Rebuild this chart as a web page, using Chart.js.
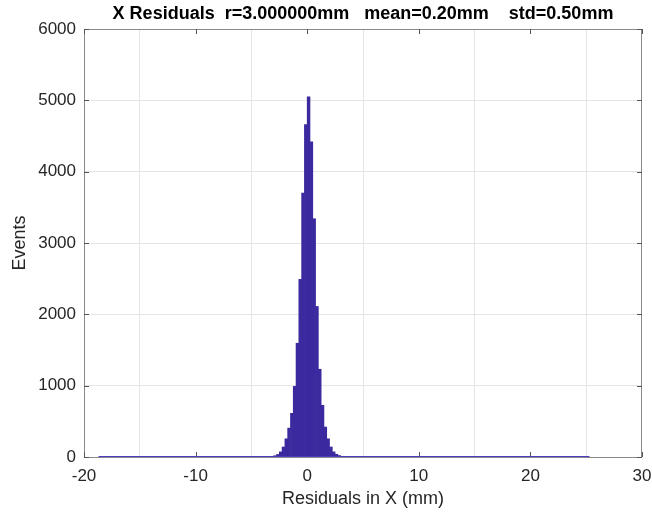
<!DOCTYPE html>
<html>
<head>
<meta charset="utf-8">
<script src="https://cdn.jsdelivr.net/npm/chart.js@4"></script>
<style>
html,body{margin:0;padding:0;background:#fff;}
#wrap{width:652px;height:513px;}
</style>
</head>
<body>
<div id="wrap"><canvas id="c" width="652" height="513"></canvas></div>
<script>
// ---- data ----
const titleText = "X Residuals  r=3.000000mm   mean=0.20mm    std=0.50mm";
const xLabel = "Residuals in X (mm)";
const yLabel = "Events";
const binCenters = [-3.375,-3.125,-2.875,-2.625,-2.375,-2.125,-1.875,-1.625,-1.375,-1.125,-0.875,-0.625,-0.375,-0.125,
                    0.125,0.375,0.625,0.875,1.125,1.375,1.625,1.875,2.125,2.375,2.625,2.875,3.125,3.375];
const counts = [5,10,18,35,72,140,255,405,612,990,1595,2490,3700,4660,
                5050,4420,3340,2110,1230,725,420,255,140,72,38,20,10,5];
const tailRange = [-18.7, 25.3];   // extent of the near-zero tails of the histogram
const tailCounts = [0, 0];
const xTicks = [-20,-10,0,10,20,30];
const yTicks = [0,1000,2000,3000,4000,5000,6000];

const barColor = '#3b2a9f';
const axisColor = '#8a8a8a';
const textColor = '#262626';
const FONT = "'Liberation Sans', Arial, Helvetica, sans-serif";

const histData = binCenters.map((x,i)=>({x:x, y:counts[i]}));
const tailData = tailRange.map((x,i)=>({x:x, y:tailCounts[i]}));

const boxPlugin = {
  id:'box',
  beforeDatasetsDraw(chart){
    const {ctx, chartArea:a, scales} = chart;
    ctx.save();
    ctx.strokeStyle = axisColor;
    ctx.lineWidth = 1;
    ctx.strokeRect(Math.round(a.left)+0.5, Math.round(a.top)+0.5, Math.round(a.right-a.left)-1, Math.round(a.bottom-a.top));
    ctx.strokeStyle = '#555';
    ctx.beginPath();
    xTicks.forEach(v=>{
      const p = Math.round(scales.x.getPixelForValue(v))+0.5;
      ctx.moveTo(p, a.bottom); ctx.lineTo(p, a.bottom-5);
      ctx.moveTo(p, a.top); ctx.lineTo(p, a.top+5);
    });
    yTicks.forEach(v=>{
      const p = Math.round(scales.y.getPixelForValue(v))+0.5;
      ctx.moveTo(a.left, p); ctx.lineTo(a.left+5, p);
      ctx.moveTo(a.right, p); ctx.lineTo(a.right-5, p);
    });
    ctx.stroke();
    ctx.restore();
  }
};

new Chart(document.getElementById('c'), {
  type:'bar',
  data:{
    datasets:[
      {type:'line', data:tailData, borderColor:'#4b3fc0', borderWidth:2, pointRadius:0, order:0},
      {type:'bar', data:histData, backgroundColor:barColor, borderColor:barColor, borderWidth:0,
       barPercentage:1, categoryPercentage:1, order:1}
    ]
  },
  plugins:[boxPlugin],
  options:{
    responsive:false,
    animation:false,
    devicePixelRatio:1,
    layout:{padding:{left:0,right:10,top:0,bottom:0}},
    plugins:{
      legend:{display:false},
      tooltip:{enabled:false},
      title:{display:true, text:titleText, fullSize:false, color:'#000',
             font:{family:FONT, size:18, weight:'bold'}, padding:{top:3,bottom:4.4}}
    },
    scales:{
      x:{type:'linear', min:-20, max:30, offset:false,
         afterBuildTicks(s){ s.ticks = xTicks.map(v=>({value:v})); },
         afterFit(s){ s.height = 56; s.paddingLeft = 0; s.paddingRight = 0; },
         grid:{color:'#e5e5e5', drawTicks:false},
         border:{display:false},
         ticks:{color:textColor, font:{family:FONT,size:17}, padding:9, maxRotation:0,
                callback:(v)=>String(v)},
         title:{display:true, text:xLabel, color:textColor, font:{family:FONT,size:18}, padding:{top:0,bottom:3}}
      },
      y:{type:'linear', min:0, max:6000,
         afterBuildTicks(s){ s.ticks = yTicks.map(v=>({value:v})); },
         afterFit(s){ s.width = 84; s.paddingTop = 0; s.paddingBottom = 0; },
         grid:{color:'#e5e5e5', drawTicks:false},
         border:{display:false},
         ticks:{color:textColor, font:{family:FONT,size:17}, padding:8, callback:(v)=>String(v)},
         title:{display:true, text:yLabel, color:textColor, font:{family:FONT,size:18}, padding:{top:9,bottom:0}}
      }
    }
  }
});
</script>
</body>
</html>
